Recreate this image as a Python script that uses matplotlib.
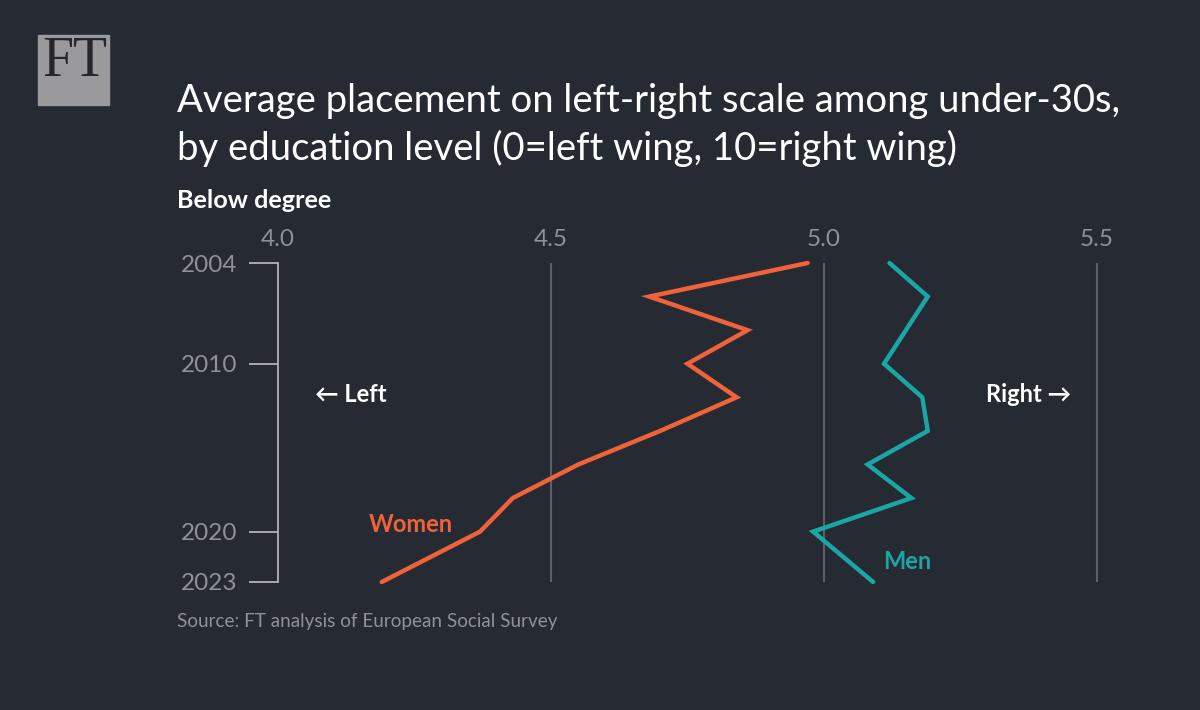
import matplotlib.pyplot as plt
from matplotlib.patches import Rectangle

# data
women_years = [2004, 2006, 2008, 2010, 2012, 2014, 2016, 2018, 2020, 2023]
women_vals = [4.97, 4.68, 4.86, 4.75, 4.84, 4.70, 4.55, 4.43, 4.37, 4.19]
men_years = [2004, 2006, 2010, 2012, 2014, 2016, 2018, 2020, 2023]
men_vals = [5.12, 5.19, 5.11, 5.18, 5.19, 5.08, 5.16, 4.98, 5.09]
x_ticks = [4.0, 4.5, 5.0, 5.5]
y_ticks = [2004, 2010, 2020, 2023]

bg = '#262a33'
orange = '#f0623a'
teal = '#1ba6a6'
grey_txt = '#8e9197'
grid_c = '#5c5f66'

plt.rcParams['font.family'] = ['Lato', 'DejaVu Sans']

fig = plt.figure(figsize=(12, 7.1), dpi=100, facecolor=bg)
ax = fig.add_axes([278 / 1200, 1 - 582 / 710, 819 / 1200, 319 / 710])
ax.set_facecolor(bg)
ax.set_xlim(4.0, 5.5)
ax.set_ylim(2023, 2004)

# grid lines
ax.vlines(x_ticks[1:], 2004, 2023, color=grid_c, lw=1.5, clip_on=False)

ax.plot(women_vals, women_years, color=orange, lw=3.2, solid_capstyle='round',
        solid_joinstyle='miter', clip_on=False)
ax.plot(men_vals, men_years, color=teal, lw=3.2, solid_capstyle='round',
        solid_joinstyle='miter', clip_on=False)

for s in ['top', 'right', 'bottom']:
    ax.spines[s].set_visible(False)
ax.spines['left'].set_color('#b0b2b6')
ax.spines['left'].set_linewidth(1.3)

ax.xaxis.tick_top()
ax.set_xticks(x_ticks)
ax.set_xticklabels([f'{v:.1f}' for v in x_ticks])
ax.tick_params(axis='x', length=0, pad=9, labelsize=17.5, labelcolor=grey_txt)
ax.set_yticks(y_ticks)
ax.set_yticklabels([str(y) for y in y_ticks])
ax.tick_params(axis='y', length=21, width=1.3, color='#b0b2b6', pad=8,
               labelsize=17.5, labelcolor=grey_txt)

ax.text(4.134, 2011.85, '← Left', color='white', fontsize=17, fontweight='bold',
        ha='center', va='center')
ax.text(5.374, 2011.85, 'Right →', color='white', fontsize=17, fontweight='bold',
        ha='center', va='center')
ax.text(4.244, 2019.6, 'Women', color=orange, fontsize=17, fontweight='bold',
        ha='center', va='center')
ax.text(5.152, 2021.8, 'Men', color=teal, fontsize=17, fontweight='bold',
        ha='center', va='center')

# header
fig.add_artist(Rectangle((38 / 1200, 1 - 105 / 710), 71 / 1200, 70 / 710,
                         transform=fig.transFigure, color='#9a9a9c'))
fig.text(74.5 / 1200, 1 - 62 / 710, 'FT', family='Liberation Serif', fontsize=40,
         color='#26262a', ha='center', va='center')
fig.text(177 / 1200, 1 - 112 / 710, 'Average placement on left-right scale among under-30s,',
         color='white', fontsize=27.5, va='baseline')
fig.text(177 / 1200, 1 - 160 / 710, 'by education level (0=left wing, 10=right wing)',
         color='white', fontsize=27.5, va='baseline')
fig.text(177 / 1200, 1 - 208 / 710, 'Below degree', color='white', fontsize=18.2,
         fontweight='bold', va='baseline')
fig.text(177 / 1200, 1 - 627 / 710, 'Source: FT analysis of European Social Survey',
         color=grey_txt, fontsize=13.6, va='baseline')

fig.savefig('out.png', dpi=100, facecolor=bg)
